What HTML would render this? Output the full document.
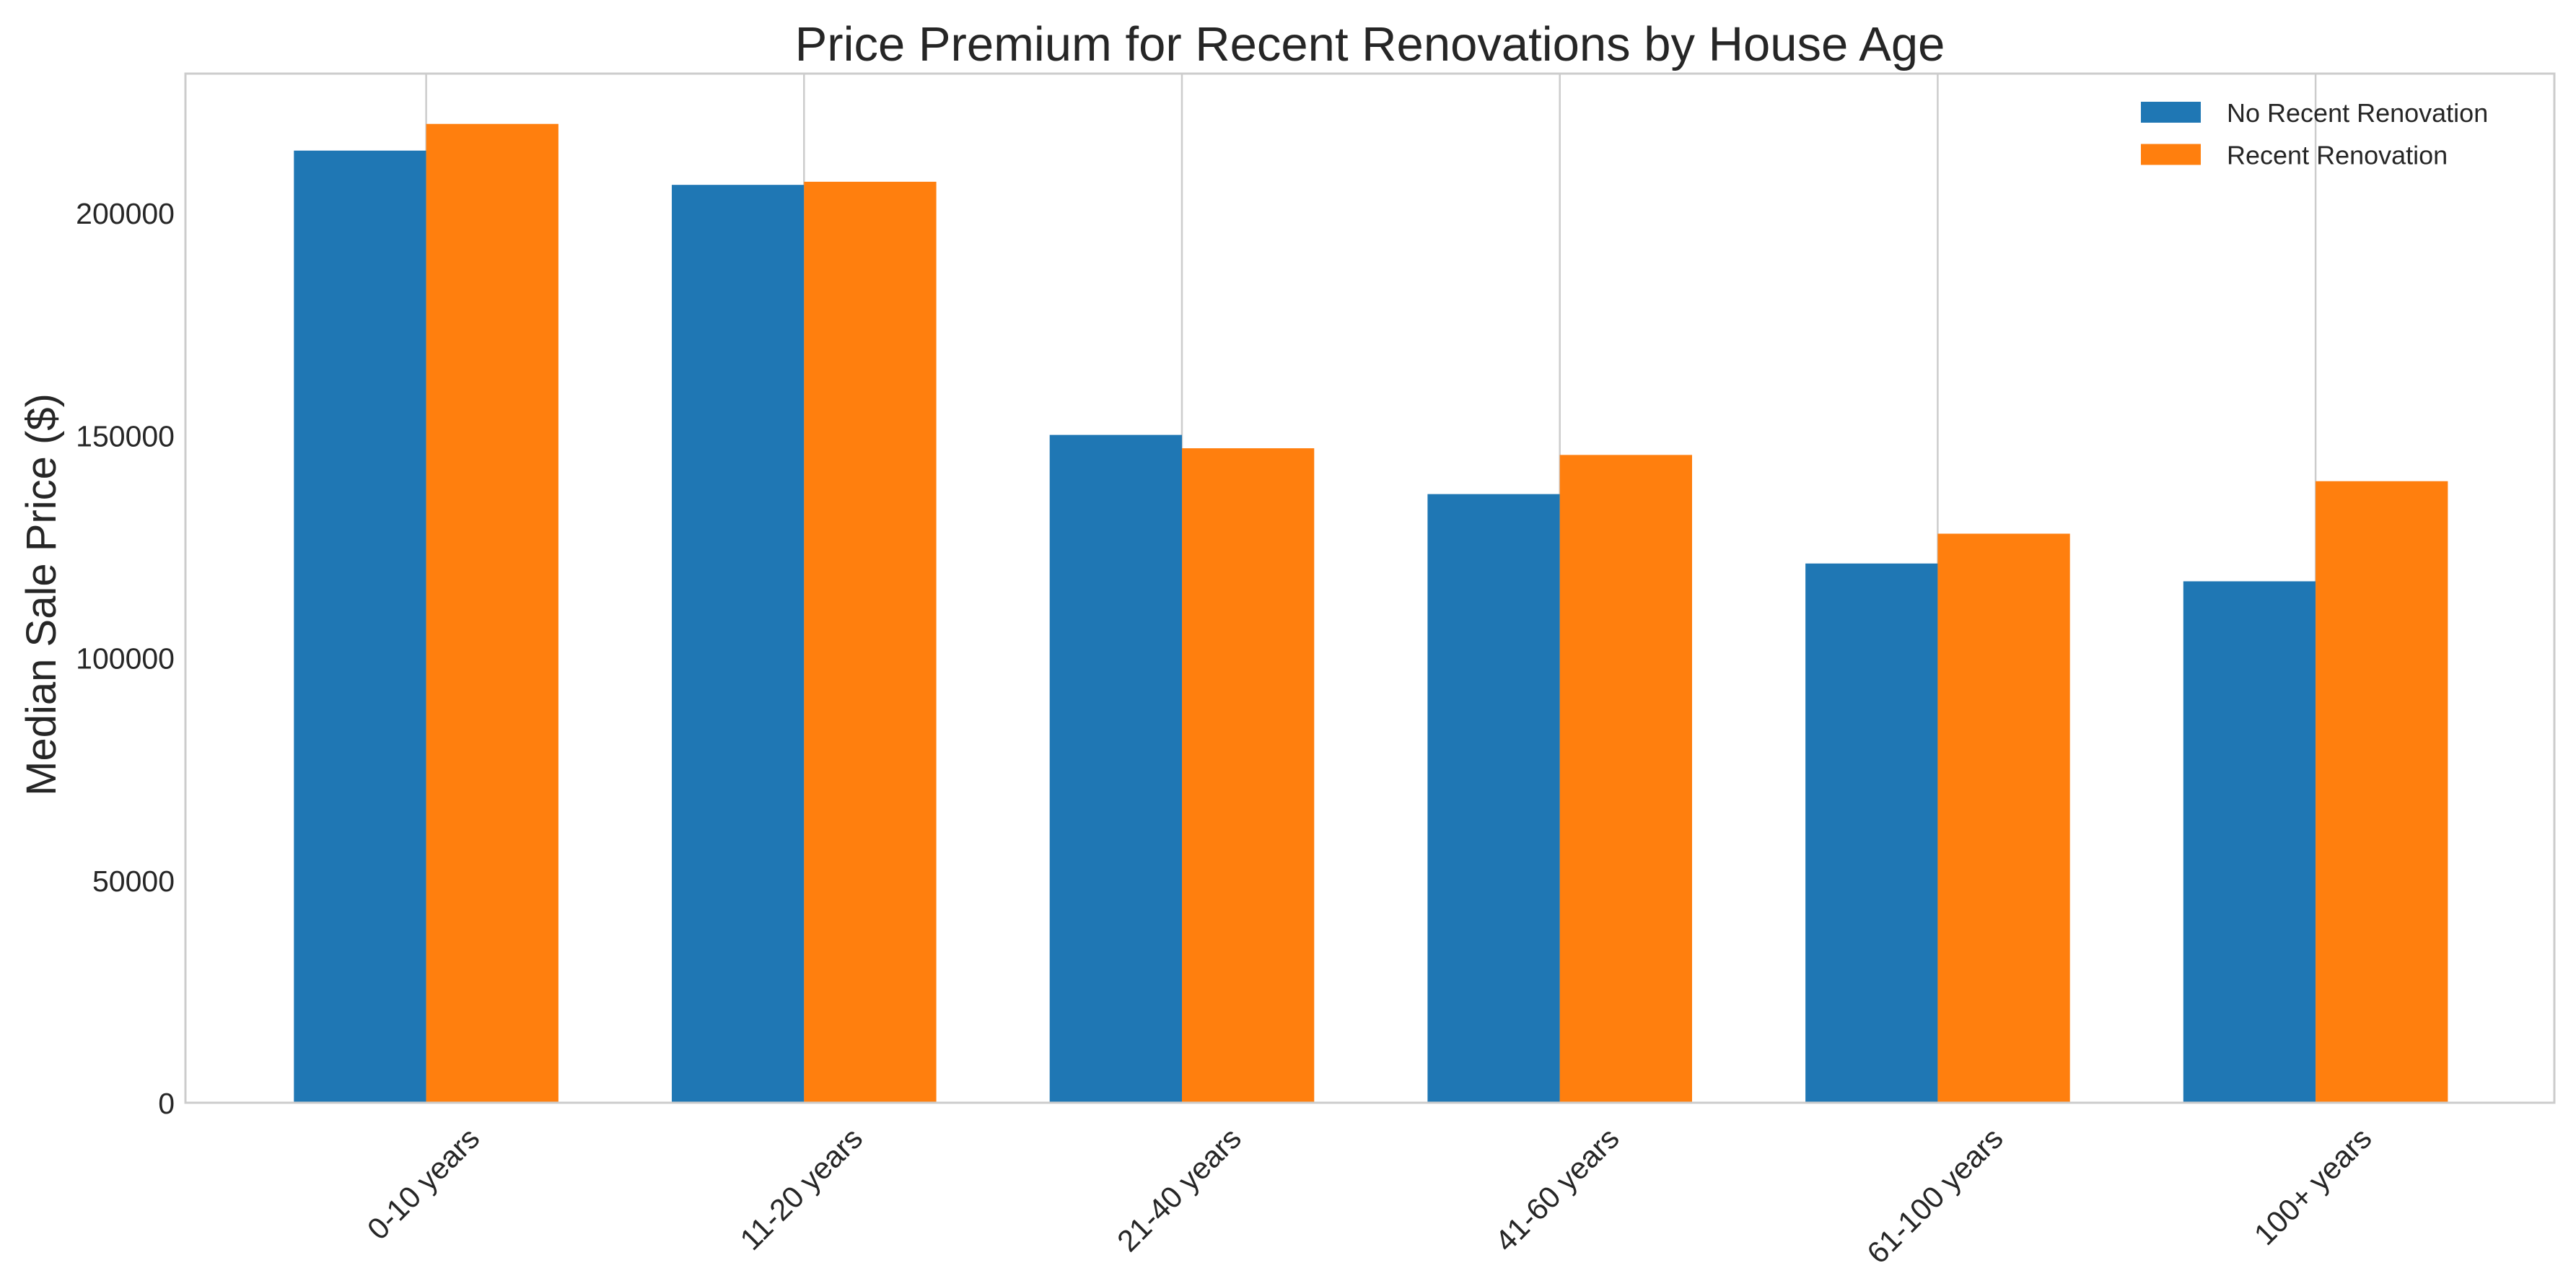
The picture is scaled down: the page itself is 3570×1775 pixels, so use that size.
<!DOCTYPE html>
<html><head><meta charset="utf-8"><style>
html,body{margin:0;padding:0;background:#fff;}
svg text{font-family:"Liberation Sans",Arial,sans-serif;fill:#262626;}
</style></head><body>
<svg id="chart" width="3570" height="1770" viewBox="0 0 3570 1770" xmlns="http://www.w3.org/2000/svg">
<rect width="3570" height="1770" fill="#fff"/>
<g id="grid"></g><g id="bars"></g><g id="axes"></g><g id="legend"></g>
</svg>
<script>
const categories = ["0-10 years","11-20 years","21-40 years","41-60 years","61-100 years","100+ years"];
const noReno = [214000,206300,150100,136800,121200,117200];
const reno = [220000,207000,147100,145600,127900,139700];
const yTicks = [0,50000,100000,150000,200000];
const seriesNames = ["No Recent Renovation","Recent Renovation"];

const NS="http://www.w3.org/2000/svg";
const L=257,R=3540,T=102,B=1528;
const yMax=(B-T)/1233*200000;
const y=v=>B-v/yMax*(B-T);
const n=categories.length;
const step=523.7, first=590.6;
const xc=i=>first+i*step;
const bw=step*0.35;
function el(tag,attrs,parent){const e=document.createElementNS(NS,tag);for(const k in attrs)e.setAttribute(k,attrs[k]);parent.appendChild(e);return e;}
const grid=document.getElementById('grid'),bars=document.getElementById('bars'),axes=document.getElementById('axes'),leg=document.getElementById('legend');
categories.forEach((c,i)=>{
  const g=el('line',{x1:xc(i),x2:xc(i),y1:T,y2:B,stroke:'#cccccc','stroke-width':2.5},grid);
  
  
  const b1=el('rect',{x:xc(i)-bw,y:y(noReno[i]),width:bw,height:B-y(noReno[i]),fill:'#1f77b4'},bars);
  
  
  const b2=el('rect',{x:xc(i),y:y(reno[i]),width:bw,height:B-y(reno[i]),fill:'#ff7f0e'},bars);
  
  
  const t=el('text',{'font-size':42,'text-anchor':'middle','dominant-baseline':'central'},axes);
  t.textContent=c;
  
  
  const w=t.getComputedTextLength();
  const hb=(w+42)*0.7071;
  const cy=1555+hb/2;
  t.setAttribute('x',xc(i)-4);t.setAttribute('y',cy);
  t.setAttribute('transform',`rotate(-45 ${xc(i)-4} ${cy})`);
});
yTicks.forEach(v=>{
  const t=el('text',{x:242,y:y(v)+15,'font-size':41,'text-anchor':'end'},axes);
  t.textContent=String(v);
  
  
});
const frame=el('rect',{x:L,y:T,width:R-L,height:B-T,fill:'none',stroke:'#cccccc','stroke-width':3},axes);


const title=el('text',{x:(L+R)/2,y:84,'font-size':67,'text-anchor':'middle'},axes);
title.textContent='Price Premium for Recent Renovations by House Age';


const yl=el('text',{x:0,y:0,'font-size':58,'text-anchor':'middle',transform:'translate(77 824) rotate(-90)'},axes);
yl.textContent='Median Sale Price ($)';


const cols=['#1f77b4','#ff7f0e'];
seriesNames.forEach((s,k)=>{
  const r=el('rect',{x:2967,y:141+k*58.5,width:83,height:29,fill:cols[k]},leg);
  
  
  const t=el('text',{x:3086,y:169+k*58.5,'font-size':36},leg);
  t.textContent=s;
  
  
});
</script>
</body></html>
